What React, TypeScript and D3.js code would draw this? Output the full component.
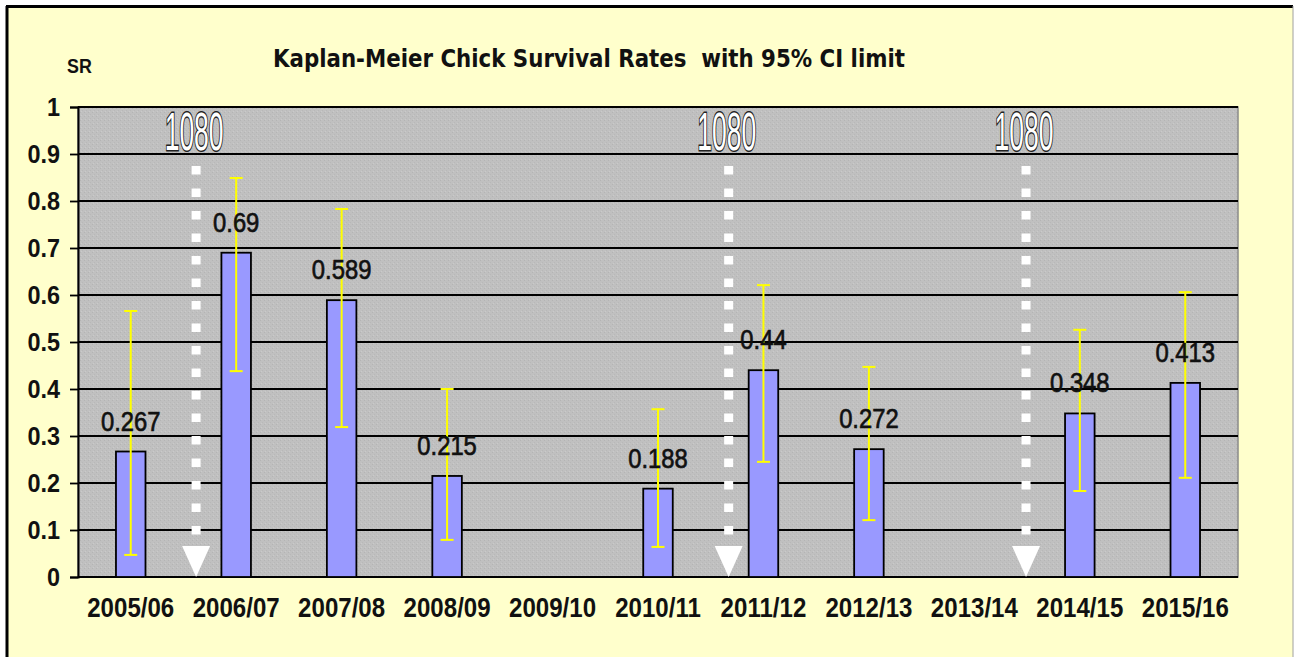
import React, { useRef, useEffect } from 'react';
import * as d3 from 'd3';

const seasons = ['2005/06', '2006/07', '2007/08', '2008/09', '2009/10', '2010/11', '2011/12', '2012/13', '2013/14', '2014/15', '2015/16'];
const survival: (number | null)[] = [0.267, 0.69, 0.589, 0.215, null, 0.188, 0.44, 0.272, null, 0.348, 0.413];
const ciLower: (number | null)[] = [0.047, 0.438, 0.319, 0.079, null, 0.064, 0.245, 0.121, null, 0.183, 0.211];
const ciUpper: (number | null)[] = [0.566, 0.849, 0.783, 0.4, null, 0.357, 0.621, 0.447, null, 0.526, 0.606];
const yTicks = [0, 0.1, 0.2, 0.3, 0.4, 0.5, 0.6, 0.7, 0.8, 0.9, 1];
// "1080" markers, position in category units along the x axis
const markerPos = [1.12, 6.17, 8.99];
const markerLabels = ['1080', '1080', '1080'];

const W = 1294;
const H = 657;

const App: React.FC = () => {
  const svgRef = useRef<SVGSVGElement | null>(null);

  useEffect(() => {
    const svg = d3.select(svgRef.current);
    svg.selectAll('*').remove();

    const plot = { left: 78, right: 1238, top: 107, bottom: 577 };

    const x = d3.scaleBand<string>().domain(seasons).range([plot.left, plot.right]).paddingInner(0.72).paddingOuter(0.36);
    const xIdx = d3.scaleLinear().domain([0, seasons.length]).range([plot.left, plot.right]);
    const y = d3.scaleLinear().domain([0, 1]).range([plot.bottom, plot.top]);

    // texture for plot area
    const defs = svg.append('defs');
    const pat = defs.append('pattern').attr('id', 'grayTex').attr('width', 4).attr('height', 4).attr('patternUnits', 'userSpaceOnUse');
    pat.append('rect').attr('width', 4).attr('height', 4).attr('fill', '#c0c0c0');
    pat.append('rect').attr('x', 0).attr('y', 0).attr('width', 1).attr('height', 1).attr('fill', '#b4b4b4');
    pat.append('rect').attr('x', 2).attr('y', 2).attr('width', 1).attr('height', 1).attr('fill', '#b8b8b8');
    pat.append('rect').attr('x', 1).attr('y', 3).attr('width', 1).attr('height', 1).attr('fill', '#cacaca');

    // outer frame
    svg.append('rect').attr('x', 7).attr('y', 7).attr('width', 1286).attr('height', H).attr('fill', '#ffffcc');
    svg.append('line').attr('x1', 6).attr('x2', 1293).attr('y1', 6.5).attr('y2', 6.5).attr('stroke', '#000').attr('stroke-width', 3);
    svg.append('line').attr('x1', 7).attr('x2', 7).attr('y1', 6).attr('y2', H).attr('stroke', '#000').attr('stroke-width', 3);
    svg.append('line').attr('x1', 1293).attr('x2', 1293).attr('y1', 6).attr('y2', H).attr('stroke', '#a0a0a0').attr('stroke-width', 1);

    // plot area
    svg.append('rect')
      .attr('x', plot.left).attr('y', plot.top)
      .attr('width', plot.right - plot.left).attr('height', plot.bottom - plot.top)
      .attr('fill', 'url(#grayTex)').attr('stroke', '#8a8a8a').attr('stroke-width', 1.5);

    // gridlines
    svg.append('g').selectAll('line').data(yTicks.slice(1)).enter().append('line')
      .attr('x1', plot.left).attr('x2', plot.right)
      .attr('y1', d => y(d)).attr('y2', d => y(d))
      .attr('stroke', '#000').attr('stroke-width', 1.8);

    // y axis
    const yAxis = d3.axisLeft(y).tickValues(yTicks).tickSize(8).tickFormat(d => String(d));
    const ya = svg.append('g').attr('transform', `translate(${plot.left},0)`).call(yAxis);
    ya.select('.domain').attr('stroke', '#000').attr('stroke-width', 2);
    ya.selectAll('.tick line').attr('stroke', '#000').attr('stroke-width', 1.8);
    ya.selectAll('.tick text').remove();
    svg.append('g').selectAll('text').data(yTicks).enter().append('text')
      .attr('transform', d => `translate(60,${y(d) + 9}) scale(0.9,1)`)
      .attr('text-anchor', 'end')
      .attr('font-family', 'Liberation Sans, Arial, sans-serif')
      .attr('font-weight', 'bold').attr('font-size', 26).attr('fill', '#111')
      .text(d => String(d));

    // x axis line
    svg.append('line').attr('x1', plot.left).attr('x2', plot.right).attr('y1', plot.bottom).attr('y2', plot.bottom)
      .attr('stroke', '#000').attr('stroke-width', 2);

    // category labels
    svg.append('g').selectAll('text').data(seasons).enter().append('text')
      .attr('transform', d => `translate(${x(d)! + x.bandwidth() / 2},617) scale(0.86,1)`)
      .attr('text-anchor', 'middle')
      .attr('font-family', 'Liberation Sans, Arial, sans-serif')
      .attr('font-weight', 'bold').attr('font-size', 28).attr('fill', '#111')
      .text(d => d);

    const data = seasons.map((s, i) => ({ s, v: survival[i], lo: ciLower[i], hi: ciUpper[i] })).filter(d => d.v != null);

    // bars
    svg.append('g').selectAll('rect').data(data).enter().append('rect')
      .attr('x', d => x(d.s)!).attr('y', d => y(d.v!))
      .attr('width', x.bandwidth()).attr('height', d => y(0) - y(d.v!))
      .attr('fill', '#9999ff').attr('stroke', '#000').attr('stroke-width', 1.8);

    // error bars
    const eb = svg.append('g').attr('stroke', '#ffff00');
    data.forEach(d => {
      const cx = x(d.s)! + x.bandwidth() / 2;
      eb.append('line').attr('x1', cx).attr('x2', cx).attr('y1', y(d.lo!)).attr('y2', y(d.hi!)).attr('stroke-width', 2);
      eb.append('line').attr('x1', cx - 6.5).attr('x2', cx + 6.5).attr('y1', y(d.lo!)).attr('y2', y(d.lo!)).attr('stroke-width', 2);
      eb.append('line').attr('x1', cx - 6.5).attr('x2', cx + 6.5).attr('y1', y(d.hi!)).attr('y2', y(d.hi!)).attr('stroke-width', 2);
    });

    // markers: dashed white arrows with "1080"
    markerPos.forEach((p, i) => {
      const mx = xIdx(p);
      svg.append('line').attr('x1', mx).attr('x2', mx).attr('y1', 166).attr('y2', 538)
        .attr('stroke', '#fff').attr('stroke-width', 9).attr('stroke-dasharray', '8.5 14');
      svg.append('path')
        .attr('d', `M${mx - 14},${546} L${mx + 14},${546} L${mx},${577} Z`)
        .attr('fill', '#fff');
      svg.append('text')
        .attr('transform', `translate(${mx - 2},150) scale(0.5,1)`)
        .attr('text-anchor', 'middle')
        .attr('font-family', 'Liberation Sans, Arial, sans-serif')
        .attr('font-size', 53)
        .attr('fill', '#fff').attr('stroke', '#222').attr('stroke-width', 3)
        .attr('paint-order', 'stroke')
        .text(markerLabels[i]);
    });

    // value labels
    svg.append('g').selectAll('text').data(data).enter().append('text')
      .attr('transform', d => `translate(${x(d.s)! + x.bandwidth() / 2},${y(d.v!) - 21}) scale(0.85,1)`)
      .attr('text-anchor', 'middle')
      .attr('font-family', 'Liberation Sans, Arial, sans-serif')
      .attr('font-size', 28).attr('fill', '#111')
      .attr('stroke', '#111').attr('stroke-width', 0.7)
      .text(d => String(d.v));

    // title + y label
    svg.append('text')
      .attr('x', 273).attr('y', 67)
      .attr('textLength', 632).attr('lengthAdjust', 'spacingAndGlyphs')
      .attr('font-family', 'DejaVu Sans Condensed, DejaVu Sans, sans-serif')
      .attr('font-weight', 'bold').attr('font-size', 24).attr('fill', '#111')
      .style('white-space', 'pre')
      .text('Kaplan-Meier Chick Survival Rates  with 95% CI limit');
    svg.append('text')
      .attr('transform', 'translate(67,73) scale(0.85,1)')
      .attr('font-family', 'Liberation Sans, Arial, sans-serif')
      .attr('font-weight', 'bold').attr('font-size', 21).attr('fill', '#111')
      .text('SR');
  }, []);

  return (
    <svg ref={svgRef} width={W} height={H} style={{ position: 'absolute', left: 0, top: 0, display: 'block' }} />
  );
};

export default App;
